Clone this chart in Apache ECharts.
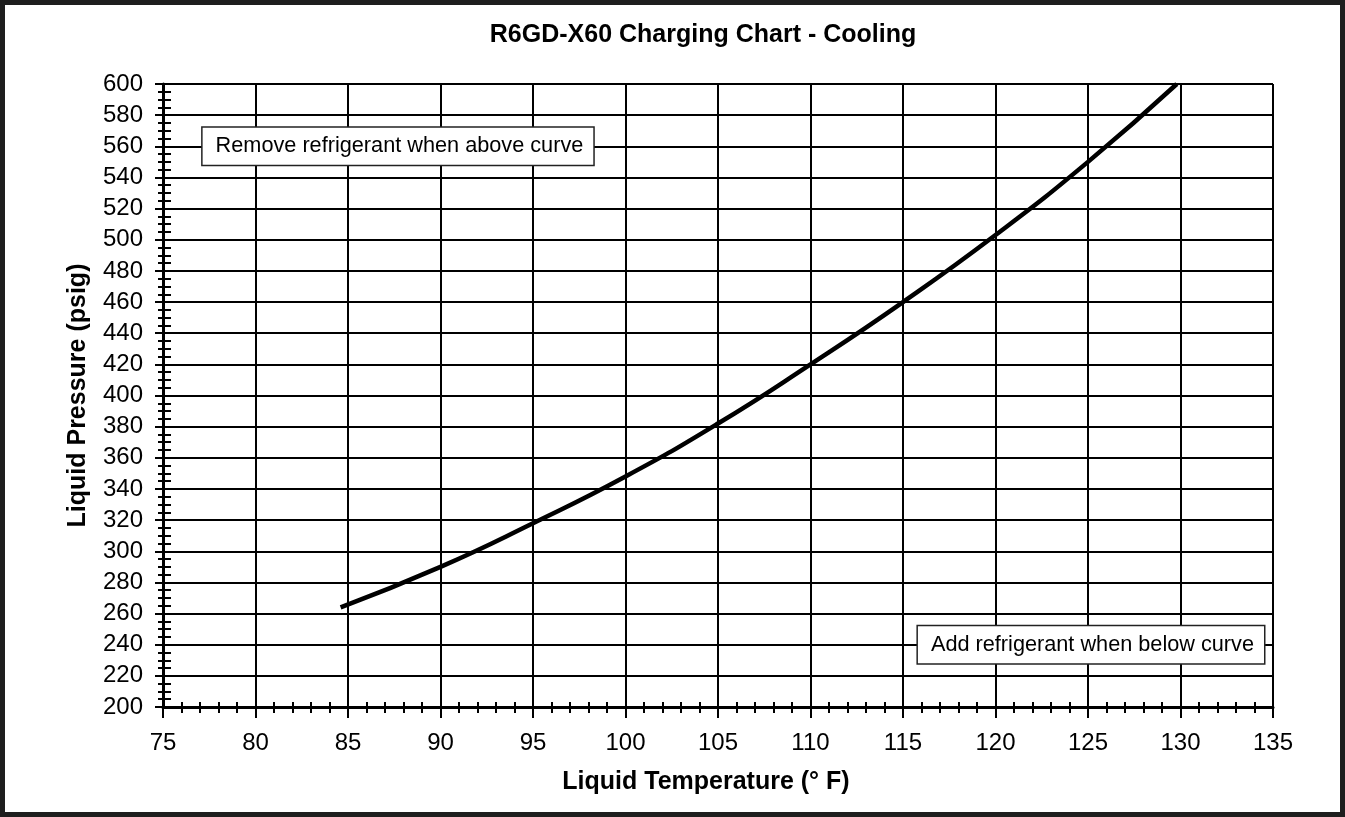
<!DOCTYPE html>
<html>
<head>
<meta charset="utf-8">
<script src="https://cdn.jsdelivr.net/npm/echarts@6/dist/echarts.min.js"></script>
<style>
html,body{margin:0;padding:0;background:#fff;}
#chart{width:1345px;height:817px;}
</style>
</head>
<body>
<div id="chart"></div>
<script>
// ---- data ----
var chartTitle = 'R6GD-X60 Charging Chart - Cooling';
var xAxisName = 'Liquid Temperature (\u00b0 F)';
var yAxisName = 'Liquid Pressure (psig)';
var temperatures = [84.6, 90, 95, 100, 105, 110, 115, 120, 125, 129.8];
var pressures    = [264, 290, 318, 348, 382, 420, 460, 503, 550, 600];
var noteTexts  = ['Remove refrigerant when above curve', 'Add refrigerant when below curve'];
var noteX      = [87.7, 125.16];
var noteY      = [560, 240];

var FONT = '"Liberation Sans", Arial, Helvetica, sans-serif';
var chart = echarts.init(document.getElementById('chart'), null, {renderer: 'canvas'});

var gridBox = {left: 163, right: 72, top: 84, bottom: 110, containLabel: false};

var option = {
  backgroundColor: '#ffffff',
  animation: false,
  title: {
    text: chartTitle,
    left: 703, top: 23, textAlign: 'center', padding: 0,
    textStyle: {fontFamily: FONT, fontSize: 25, fontWeight: 'bold', color: '#000'}
  },
  graphic: [{
    type: 'rect', silent: true, z: 100,
    shape: {x: 2.5, y: 2.5, width: 1340, height: 812},
    style: {fill: 'none', stroke: '#1e1e1e', lineWidth: 5}
  }],
  grid: [gridBox, gridBox],
  xAxis: [{
    type: 'value', gridIndex: 0, min: 75, max: 135, interval: 5,
    name: xAxisName, nameLocation: 'middle', nameGap: 63,
    nameTextStyle: {fontFamily: FONT, fontSize: 25, fontWeight: 'bold', color: '#000', padding: [0, 24, 0, 0]},
    axisLine: {show: true, lineStyle: {color: '#000', width: 3}},
    axisTick: {show: true, inside: false, length: 11, lineStyle: {color: '#000', width: 2}},
    minorTick: {show: true, splitNumber: 5, length: 6, lineStyle: {color: '#000', width: 2}},
    axisLabel: {margin: 24, fontFamily: FONT, fontSize: 24, color: '#000'},
    splitLine: {show: true, lineStyle: {color: '#000', width: 2}}
  }, {
    type: 'value', gridIndex: 1, min: 75, max: 135, interval: 5,
    axisLine: {show: false},
    axisTick: {show: true, inside: true, length: 7, lineStyle: {color: '#000', width: 2}},
    minorTick: {show: true, splitNumber: 5, length: 5, lineStyle: {color: '#000', width: 2}},
    axisLabel: {show: false},
    splitLine: {show: false}
  }],
  yAxis: [{
    type: 'value', gridIndex: 0, min: 200, max: 600, interval: 20,
    name: yAxisName, nameLocation: 'middle', nameGap: 72,
    nameTextStyle: {fontFamily: FONT, fontSize: 25, fontWeight: 'bold', color: '#000'},
    axisLine: {show: true, lineStyle: {color: '#000', width: 3}},
    axisTick: {show: true, inside: false, length: 8, lineStyle: {color: '#000', width: 2}},
    minorTick: {show: true, splitNumber: 4, length: 5, lineStyle: {color: '#000', width: 2}},
    axisLabel: {margin: 20, fontFamily: FONT, fontSize: 24, color: '#000'},
    splitLine: {show: true, lineStyle: {color: '#000', width: 2}}
  }, {
    type: 'value', gridIndex: 1, min: 200, max: 600, interval: 20,
    axisLine: {show: false},
    axisTick: {show: true, inside: true, length: 8, lineStyle: {color: '#000', width: 2}},
    minorTick: {show: true, splitNumber: 4, length: 8, lineStyle: {color: '#000', width: 2}},
    axisLabel: {show: false},
    splitLine: {show: false}
  }],
  series: [{
    type: 'line', xAxisIndex: 0, yAxisIndex: 0,
    data: temperatures.map(function (t, i) { return [t, pressures[i]]; }),
    smooth: true, showSymbol: false, symbol: 'none',
    lineStyle: {color: '#000', width: 4.5}, z: 5
  }, {
    type: 'scatter', xAxisIndex: 0, yAxisIndex: 0, symbolSize: 0, z: 10,
    itemStyle: {opacity: 1, color: '#000'},
    data: noteTexts.map(function (t, i) { return {name: t, value: [noteX[i], noteY[i]]}; }),
    label: {
      show: true, position: 'inside', formatter: '{b}',
      fontFamily: FONT, fontSize: 21.7, color: '#000', textBorderWidth: 0,
      backgroundColor: '#fff', borderColor: '#222', borderWidth: 1.5,
      padding: [8, 10, 7, 13]
    }
  }]
};
chart.setOption(option);
</script>
</body>
</html>
